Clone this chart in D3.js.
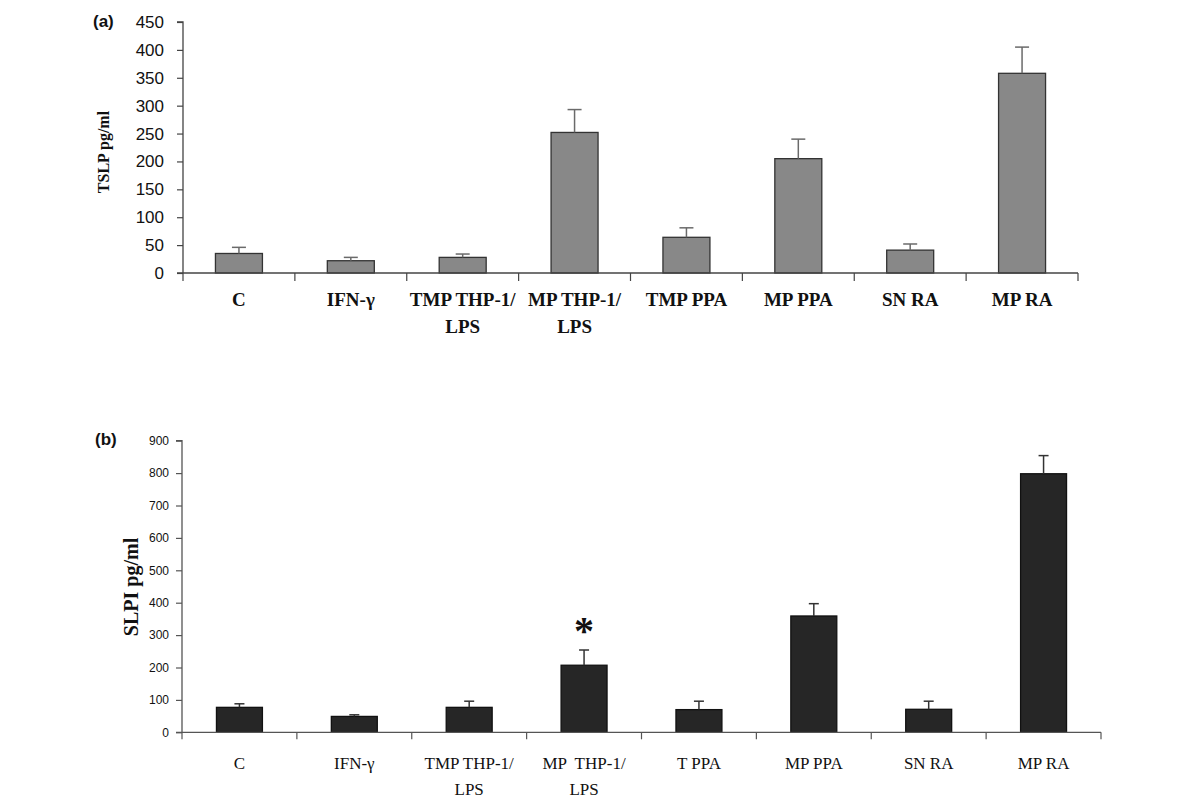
<!DOCTYPE html>
<html>
<head>
<meta charset="utf-8">
<script src="https://cdn.jsdelivr.net/npm/d3@7"></script>
<style>
  body { margin: 0; background: #fff; }
  svg { display: block; }
</style>
</head>
<body>
<svg id="chart" width="1200" height="798"></svg>
<script>
// ---- Data ----
const categoriesA = ["C", "IFN-γ", "TMP THP-1/\nLPS", "MP THP-1/\nLPS", "TMP PPA", "MP PPA", "SN RA", "MP RA"];
const tslpValues = [35, 22, 28, 252, 64, 205, 41, 358];
const tslpErrors = [11, 6, 6, 41, 17, 35, 11, 47];
const tslpTicks = [0, 50, 100, 150, 200, 250, 300, 350, 400, 450];

const categoriesB = ["C", "IFN-γ", "TMP THP-1/\nLPS", "MP  THP-1/\nLPS", "T PPA", "MP PPA", "SN RA", "MP RA"];
const slpiValues = [77, 49, 77, 207, 70, 359, 71, 798];
const slpiErrors = [11, 5, 19, 47, 26, 38, 25, 56];
const slpiTicks = [0, 100, 200, 300, 400, 500, 600, 700, 800, 900];
const significant = ["MP  THP-1/\nLPS"];

const svg = d3.select("#chart");
const serif = "'Liberation Serif', 'Times New Roman', serif";
const sans = "'Liberation Sans', Arial, sans-serif";

function panel(cfg) {
  const g = svg.append("g");
  const x = d3.scaleBand().domain(cfg.categories).range([cfg.x0, cfg.x1])
    .paddingInner(cfg.pad).paddingOuter(cfg.pad / 2);
  const y = d3.scaleLinear().domain([0, cfg.max]).range([cfg.y0, cfg.yTop]);
  const cx = c => x(c) + x.bandwidth() / 2;

  // y axis
  const yAxis = d3.axisLeft(y).tickValues(cfg.ticks).tickSize(6).tickPadding(cfg.tickPad);
  const ya = g.append("g").attr("transform", `translate(${cfg.x0},0)`).call(yAxis);
  ya.select(".domain").attr("stroke", cfg.axisColor).attr("stroke-width", 1.3).attr("d", `M-6,${cfg.yTop}H0V${cfg.y0}`);
  ya.selectAll(".tick line").attr("stroke", cfg.axisColor).attr("stroke-width", 1.2);
  ya.selectAll(".tick text").attr("font-family", sans).attr("font-size", cfg.tickFont).attr("fill", "#111");

  // bars
  g.selectAll("rect.bar").data(cfg.values).join("rect")
    .attr("class", "bar")
    .attr("x", (d, i) => x(cfg.categories[i]))
    .attr("width", x.bandwidth())
    .attr("y", d => y(d))
    .attr("height", d => y(0) - y(d))
    .attr("fill", cfg.fill).attr("stroke", cfg.stroke).attr("stroke-width", 1.3);

  // error bars (upper)
  const eb = g.selectAll("g.err").data(cfg.values).join("g").attr("class", "err");
  eb.append("line")
    .attr("x1", (d, i) => cx(cfg.categories[i]))
    .attr("x2", (d, i) => cx(cfg.categories[i]))
    .attr("y1", d => y(d))
    .attr("y2", (d, i) => y(d + cfg.errors[i]))
    .attr("stroke", cfg.errColor).attr("stroke-width", 1.5);
  eb.append("line")
    .attr("x1", (d, i) => cx(cfg.categories[i]) - cfg.cap / 2)
    .attr("x2", (d, i) => cx(cfg.categories[i]) + cfg.cap / 2)
    .attr("y1", (d, i) => y(d + cfg.errors[i]))
    .attr("y2", (d, i) => y(d + cfg.errors[i]))
    .attr("stroke", cfg.errColor).attr("stroke-width", 1.5);

  // x axis
  g.append("line").attr("x1", cfg.x0 - 6).attr("x2", cfg.x1).attr("y1", y(0)).attr("y2", y(0))
    .attr("stroke", cfg.axisColor).attr("stroke-width", 1.3);
  const boundaries = cfg.categories.map(c => cx(c) - x.step() / 2).concat([cx(cfg.categories[cfg.categories.length - 1]) + x.step() / 2]);
  g.selectAll("line.xt").data(boundaries).join("line")
    .attr("class", "xt")
    .attr("x1", d => d).attr("x2", d => d)
    .attr("y1", y(0)).attr("y2", y(0) + cfg.xTick)
    .attr("stroke", cfg.axisColor).attr("stroke-width", 1.2);

  // x labels
  const lbl = g.selectAll("text.xl").data(cfg.categories).join("text")
    .attr("class", "xl")
    .attr("text-anchor", "middle")
    .attr("font-family", serif).attr("font-size", cfg.labelFont).attr("font-weight", cfg.labelWeight)
    .attr("fill", "#111")
    .style("white-space", "pre");
  lbl.each(function(d) {
    const t = d3.select(this);
    d.split("\n").forEach((ln, k) => {
      t.append("tspan").attr("x", cx(d)).attr("y", cfg.labelY + k * cfg.lineGap).text(ln);
    });
  });

  // y title
  g.append("text")
    .attr("transform", `translate(${cfg.titleX},${cfg.titleY}) rotate(-90)`)
    .attr("text-anchor", "middle")
    .attr("font-family", serif).attr("font-weight", "bold").attr("font-size", cfg.titleFont)
    .attr("fill", "#111")
    .text(cfg.title);

  // panel label
  g.append("text").attr("x", cfg.panelX).attr("y", cfg.panelY)
    .attr("font-family", sans).attr("font-weight", "bold").attr("font-size", 17).attr("fill", "#111")
    .text(cfg.panel);

  return { x, y, g, cx };
}

panel({
  categories: categoriesA, values: tslpValues, errors: tslpErrors, ticks: tslpTicks, max: 450,
  x0: 183, x1: 1078, y0: 273, yTop: 22, pad: 0.58,
  fill: "#888888", stroke: "#333", errColor: "#6a6a6a", cap: 14, axisColor: "#444",
  tickFont: 17, tickPad: 13, xTick: 8,
  labelY: 306, lineGap: 27, labelFont: 19, labelWeight: "bold",
  title: "TSLP pg/ml", titleX: 109, titleY: 152, titleFont: 16,
  panel: "(a)", panelX: 93, panelY: 27
});

const pb = panel({
  categories: categoriesB, values: slpiValues, errors: slpiErrors, ticks: slpiTicks, max: 900,
  x0: 182, x1: 1101, y0: 732.3, yTop: 440.7, pad: 0.6,
  fill: "#262626", stroke: "#111", errColor: "#333", cap: 10, axisColor: "#555",
  tickFont: 12, tickPad: 7, xTick: 7,
  labelY: 769, lineGap: 26, labelFont: 17, labelWeight: "normal",
  title: "SLPI pg/ml", titleX: 138, titleY: 587, titleFont: 20,
  panel: "(b)", panelX: 95, panelY: 445
});

// significance marker
pb.g.selectAll("text.sig").data(significant).join("text")
  .attr("class", "sig")
  .attr("x", d => pb.cx(d))
  .attr("y", d => pb.y(slpiValues[categoriesB.indexOf(d)] + slpiErrors[categoriesB.indexOf(d)]) - 6)
  .attr("text-anchor", "middle")
  .attr("font-family", serif).attr("font-weight", "bold").attr("font-size", 40)
  .attr("fill", "#111")
  .text("*");
</script>
</body>
</html>
